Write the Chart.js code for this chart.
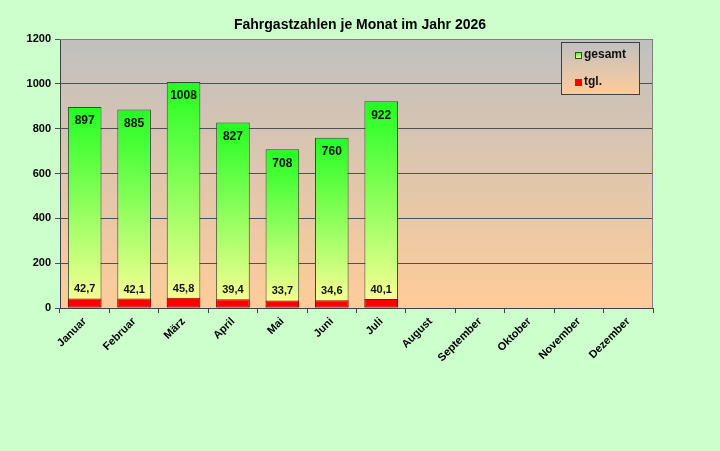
<!DOCTYPE html>
<html>
<head>
<meta charset="utf-8">
<script src="https://cdn.jsdelivr.net/npm/chart.js@4"></script>
<style>
  html, body { margin: 0; padding: 0; background: #CCFFCC; }
  #wrap { width: 720px; height: 451px; }
</style>
</head>
<body>
<div id="wrap"><canvas id="c"></canvas></div>
<script>
// Daten
const monate = ["Januar", "Februar", "März", "April", "Mai", "Juni", "Juli",
                "August", "September", "Oktober", "November", "Dezember"];
const gesamt = [897, 885, 1008, 827, 708, 760, 922, null, null, null, null, null];
const tgl = [42.7, 42.1, 45.8, 39.4, 33.7, 34.6, 40.1, null, null, null, null, null];
const yTicks = [0, 200, 400, 600, 800, 1000, 1200];

const titel = "Fahrgastzahlen je Monat im Jahr 2026";
const FONT = "'Liberation Sans', Arial, sans-serif";

// grüner Verlauf pro Balken
function balkenVerlauf(ctx) {
    const chart = ctx.chart;
    if (!chart.chartArea || ctx.raw == null) return '#33FF33';
    const y = chart.scales.y;
    const top = y.getPixelForValue(ctx.raw);
    const base = y.getPixelForValue(0);
    const g = chart.ctx.createLinearGradient(0, top, 0, base);
    g.addColorStop(0, '#22FF22');
    g.addColorStop(1, '#FFFF99');
    return g;
}

// Hintergrund, Titel, Rahmen, Legende, Werte
const deko = {
    id: 'deko',
    beforeDraw(chart) {
        const c = chart.ctx, a = chart.chartArea;
        c.save();
        c.fillStyle = '#CCFFCC';
        c.fillRect(0, 0, chart.width, chart.height);
        const g = c.createLinearGradient(0, a.top, 0, a.bottom);
        g.addColorStop(0, '#C0C0C0');
        g.addColorStop(1, '#FFCC99');
        c.fillStyle = g;
        c.fillRect(a.left, a.top, a.right - a.left, a.bottom - a.top);
        c.restore();
    },
    afterDatasetsDraw(chart) {
        const c = chart.ctx, a = chart.chartArea;
        c.save();
        // Rahmen oben / rechts
        c.strokeStyle = '#808080';
        c.lineWidth = 1;
        c.beginPath();
        c.moveTo(a.left, a.top + 0.5);
        c.lineTo(a.right - 0.5, a.top + 0.5);
        c.lineTo(a.right - 0.5, a.bottom);
        c.stroke();

        // Werte
        c.fillStyle = '#111';
        c.textAlign = 'center';
        c.textBaseline = 'middle';
        const m0 = chart.getDatasetMeta(0);
        const m1 = chart.getDatasetMeta(1);
        c.font = 'bold 12px ' + FONT;
        m0.data.forEach((bar, i) => {
            if (gesamt[i] == null) return;
            c.fillText(String(gesamt[i]), bar.x, bar.y + 14);
        });
        c.font = 'bold 11px ' + FONT;
        m1.data.forEach((bar, i) => {
            if (tgl[i] == null) return;
            c.fillText(tgl[i].toFixed(1).replace('.', ','), bar.x, bar.y - 9);
        });

        // Titel
        c.fillStyle = '#000';
        c.font = 'bold 14px ' + FONT;
        c.fillText(titel, 360, 25);

        // Legende
        const lx = 561.5, ly = 42.5, lw = 78, lh = 52;
        const lg = c.createLinearGradient(0, ly, 0, ly + lh);
        lg.addColorStop(0, '#C0C0C0');
        lg.addColorStop(1, '#FFCC99');
        c.fillStyle = lg;
        c.fillRect(lx, ly, lw, lh);
        c.strokeStyle = '#404040';
        c.strokeRect(lx, ly, lw, lh);

        const sg = c.createLinearGradient(0, 52, 0, 58);
        sg.addColorStop(0, '#22FF22');
        sg.addColorStop(1, '#FFFF99');
        c.fillStyle = sg;
        c.fillRect(575.5, 52.5, 6, 6);
        c.strokeStyle = '#2F4F2F';
        c.strokeRect(575.5, 52.5, 6, 6);
        c.fillStyle = '#FF0000';
        c.fillRect(575, 79, 7, 7);

        c.fillStyle = '#111';
        c.textAlign = 'left';
        c.font = 'bold 12px ' + FONT;
        c.fillText('gesamt', 584, 55);
        c.fillText('tgl.', 584, 82);
        c.restore();
    }
};

new Chart(document.getElementById('c'), {
    type: 'bar',
    data: {
        labels: monate,
        datasets: [
            {
                label: 'gesamt',
                data: gesamt,
                backgroundColor: balkenVerlauf,
                borderColor: '#2F4F2F',
                borderWidth: 1,
                borderSkipped: false,
                order: 2
            },
            {
                label: 'tgl.',
                data: tgl,
                backgroundColor: '#FF0000',
                borderColor: '#990000',
                borderWidth: 1,
                borderSkipped: false,
                order: 1
            }
        ]
    },
    options: {
        responsive: true,
        maintainAspectRatio: false,
        animation: false,
        datasets: { bar: { categoryPercentage: 1.0, barPercentage: 0.68 } },
        layout: { padding: { top: 39, right: 67, left: 0, bottom: 0 } },
        plugins: {
            legend: { display: false },
            title: { display: false },
            tooltip: { enabled: false }
        },
        scales: {
            x: {
                stacked: true,
                offset: true,
                afterFit(s) { s.height = 143; },
                grid: {
                    offset: true,
                    drawOnChartArea: false,
                    drawTicks: true,
                    tickLength: 5,
                    color: '#404040'
                },
                border: { color: '#404040', width: 1 },
                ticks: {
                    color: '#000',
                    font: { family: FONT, size: 11, weight: 'bold' },
                    minRotation: 45,
                    maxRotation: 45,
                    autoSkip: false,
                    padding: 2
                }
            },
            y: {
                stacked: false,
                min: 0,
                max: 1200,
                afterFit(s) { s.width = 60; },
                afterBuildTicks(s) { s.ticks = yTicks.map(v => ({ value: v })); },
                grid: {
                    color: '#505050',
                    tickLength: 5,
                    lineWidth: 1
                },
                border: { color: '#404040', width: 1 },
                ticks: {
                    color: '#000',
                    font: { family: FONT, size: 11, weight: 'bold' },
                    padding: 4,
                    callback: (v) => String(v)
                }
            }
        }
    },
    plugins: [deko]
});
</script>
</body>
</html>
